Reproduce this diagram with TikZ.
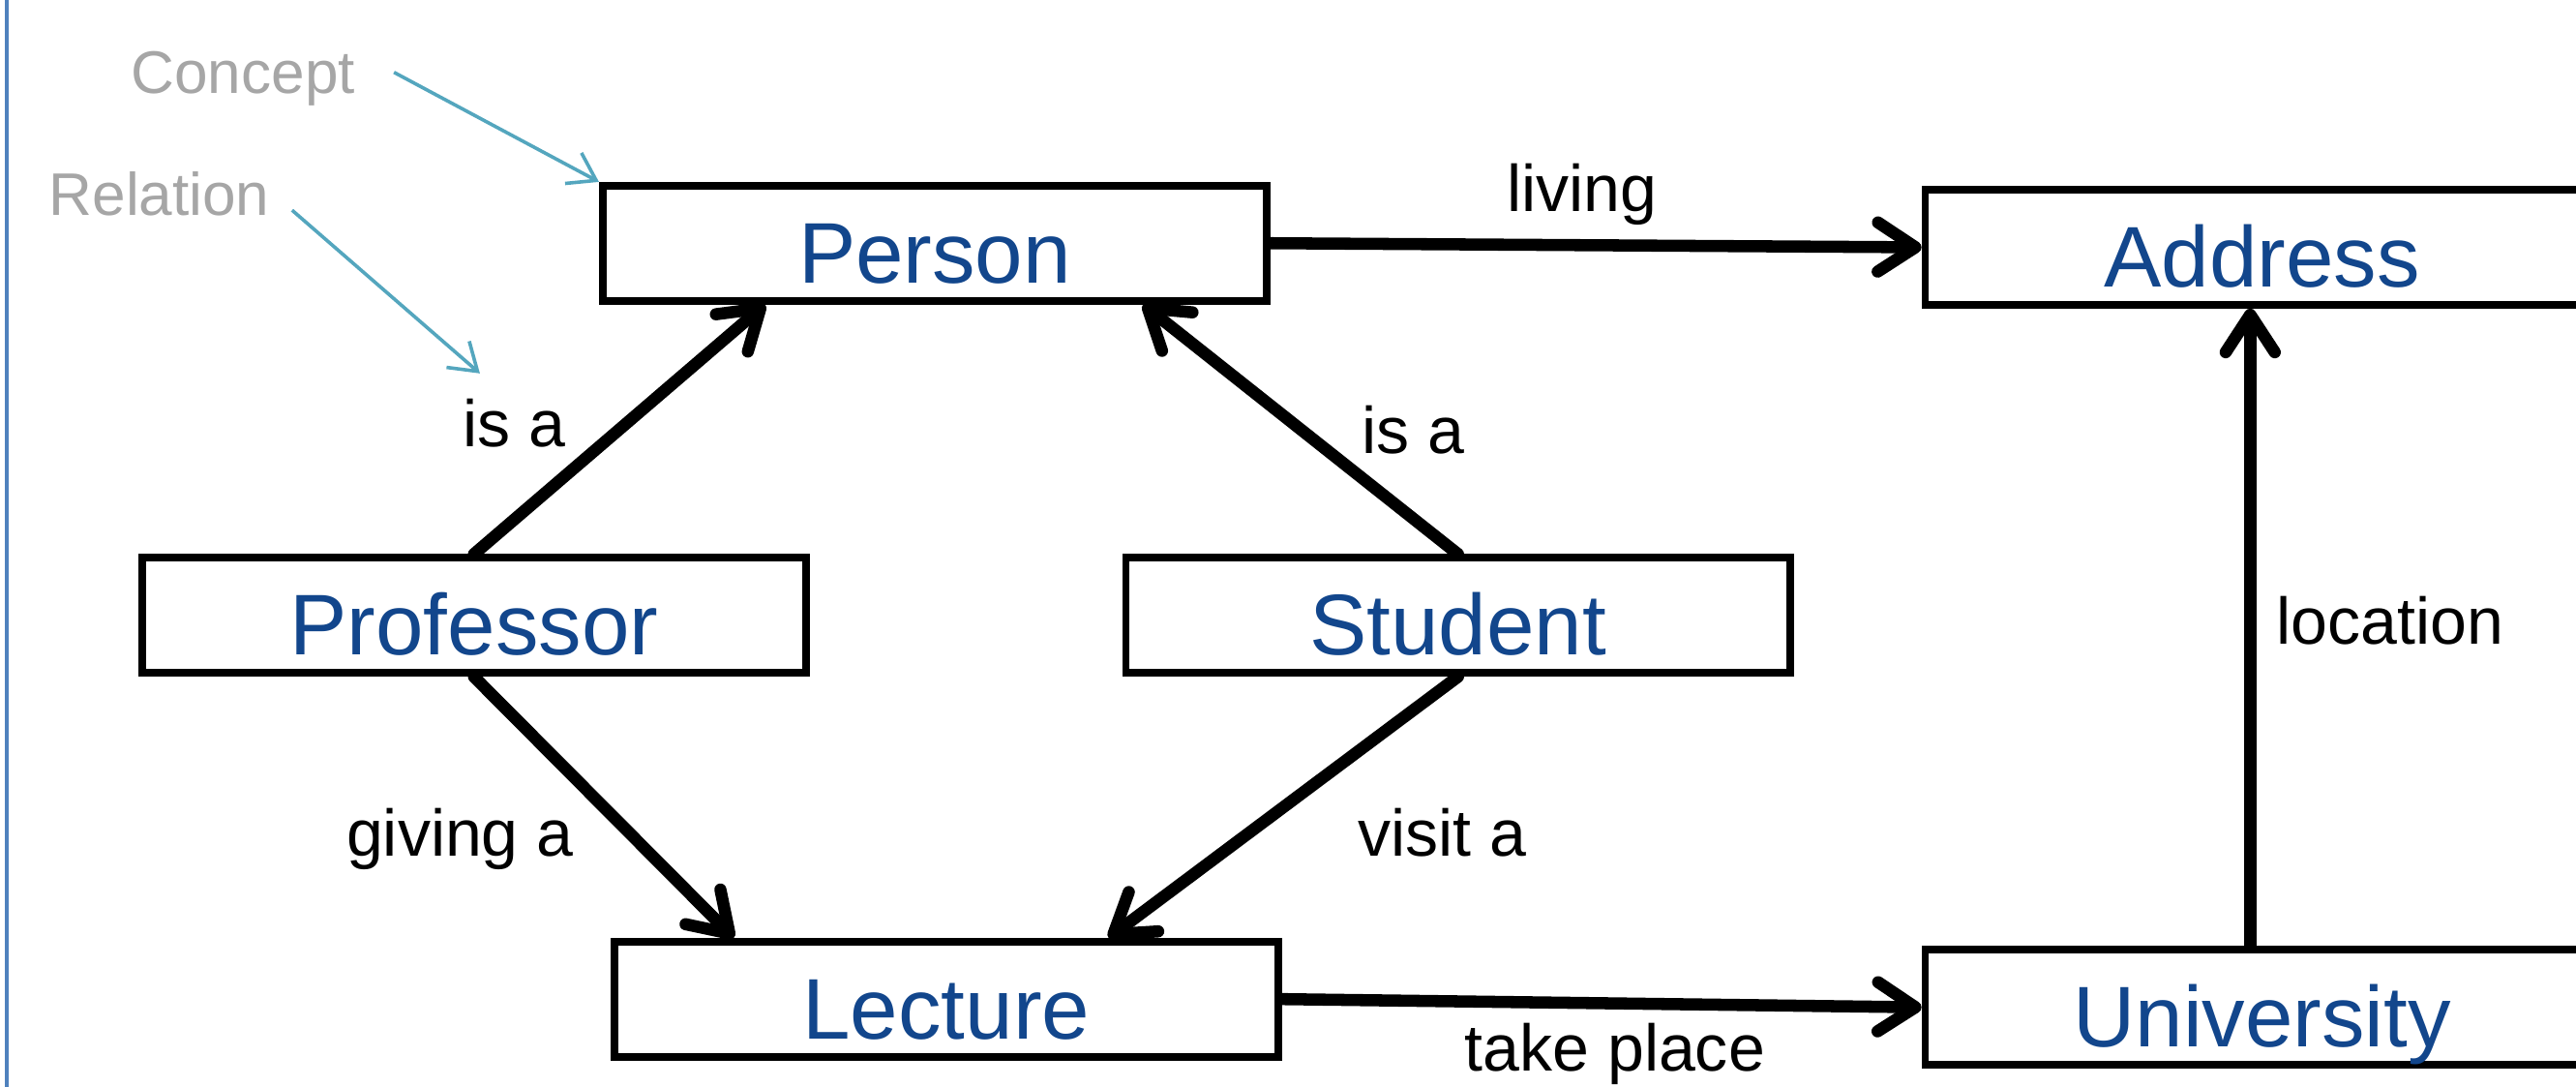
\documentclass[tikz,border=0pt]{standalone}
\usepackage{fontspec}
\setmainfont{Liberation Sans}
\usetikzlibrary{arrows.meta}
\definecolor{boxblue}{RGB}{18,70,140}
\definecolor{hintteal}{RGB}{84,166,190}
\definecolor{frameblue}{RGB}{79,129,189}
\definecolor{hintgray}{RGB}{166,166,166}
\begin{document}
\begin{tikzpicture}[x=0.01cm,y=-0.01cm,
 conceptbox/.style={draw=black, line width=1.3pt, fill=white, minimum width=4.04cm, minimum height=0.7cm, inner sep=0pt, text=boxblue, font=\fontsize{14.9}{16}\selectfont, text height=13.7pt, text depth=0pt},
 relarrow/.style={-{Straight Barb[length=6.5pt,width=8.5pt,round]}, line width=2.1pt, line cap=round},
 lab/.style={font=\fontsize{11.4}{13}\selectfont, anchor=base, inner sep=0pt},
 hintlab/.style={font=\fontsize{10.4}{12}\selectfont, text=hintgray, anchor=base, inner sep=0pt},
 hintarrow/.style={-{Straight Barb[length=4.5pt,width=6pt]}, draw=hintteal, line width=0.6pt}]
\useasboundingbox (0,0) rectangle (1568,661);
\fill[white] (0,0) rectangle (1568,661);
\clip (0,0) rectangle (1568,661);
\draw[frameblue, line width=0.7pt] (4,-5) -- (4,670);

\node[conceptbox] (person) at (569,148) {Person};
\node[conceptbox, minimum width=4.1cm] (address) at (1377,150.5) {Address};
\node[conceptbox] (prof) at (288.5,374.5) {Professor};
\node[conceptbox] (stud) at (887.5,374.5) {Student};
\node[conceptbox] (lect) at (576,608) {Lecture};
\node[conceptbox, minimum width=4.1cm] (univ) at (1377,613) {University};

\node[lab] (living) at (963,129) {living};
\node[lab] (isa1) at (313,272) {is a};
\node[lab] (isa2) at (860,276) {is a};
\node[lab] (giving) at (280,521) {giving a};
\node[lab] (visit) at (878,521) {visit a};
\node[lab] (location) at (1455,392) {location};
\node[lab] (takeplace) at (983,652) {take place};
\node[hintlab] (concept) at (148,57) {Concept};
\node[hintlab] (relation) at (97,131) {Relation};

\draw[hintarrow] ([shift={(0.23cm,0.04cm)}]concept.east) -- (person.north west);
\draw[hintarrow] ([shift={(0.13cm,-0.1cm)}]relation.east) -- ([shift={(0.11cm,0.15cm)}]isa1.north west);

\draw[relarrow] (person.east) -- (address.west);
\draw[relarrow] (prof.north) -- ([xshift=1.01cm]person.south west);
\draw[relarrow] (stud.north) -- ([xshift=3.31cm]person.south west);
\draw[relarrow] (prof.south) -- ([xshift=0.75cm]lect.north west);
\draw[relarrow] (stud.south) -- ([xshift=3.03cm]lect.north west);
\draw[relarrow] (lect.east) -- (univ.west);
\draw[relarrow] ([xshift=2cm]univ.north west) -- ([xshift=2cm]address.south west);
\end{tikzpicture}
\end{document}
